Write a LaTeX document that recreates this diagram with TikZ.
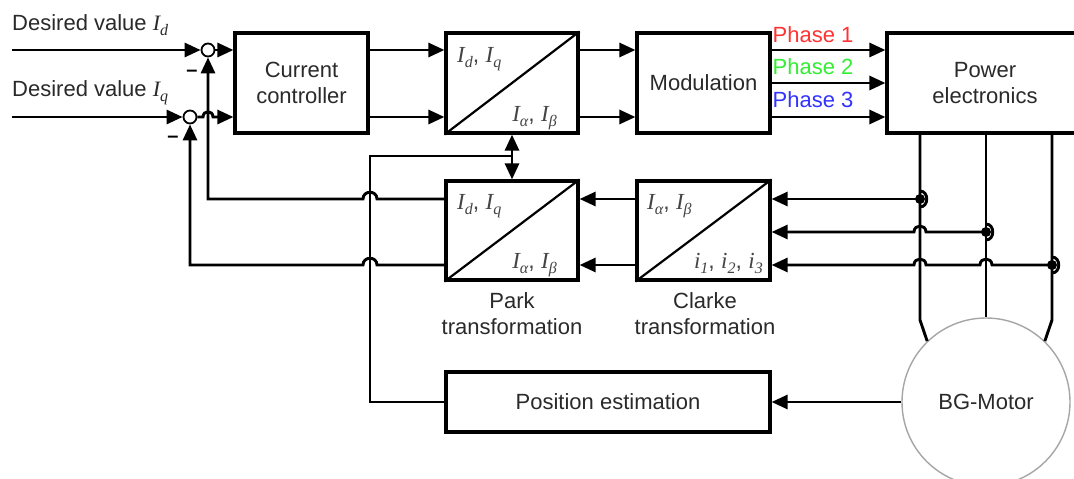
\documentclass[tikz,border=0pt]{standalone}
\usepackage{fontspec}
\setmainfont{Liberation Sans}
\newfontfamily\serfam{Liberation Serif}
\usetikzlibrary{arrows.meta}
\definecolor{txt}{HTML}{2A2A2A}
\definecolor{mtxt}{HTML}{444444}
\definecolor{ph1}{HTML}{FF3333}
\definecolor{ph2}{HTML}{33EE33}
\definecolor{ph3}{HTML}{3333FF}
\newcommand\vv[2]{{\serfam\itshape #1\raisebox{-0.25em}{\fontsize{16}{16}\selectfont #2}}}
\begin{document}
\begin{tikzpicture}[x=1pt,y=-1pt,
  box/.style={draw, line width=3.2pt, inner sep=0pt, align=center,
    font=\fontsize{22}{26}\selectfont, text=txt},
  lbl/.style={font=\fontsize{22}{26}\selectfont, text=txt, align=center, inner sep=0pt},
  mlbl/.style={font=\fontsize{23}{26}\selectfont, text=mtxt, inner sep=0pt},
  conn/.style={line width=2.9pt},
  arr/.style={conn, -{Triangle[length=16pt,width=14pt]}},
  arrtwo/.style={conn, {Triangle[length=16pt,width=14pt]}-{Triangle[length=16pt,width=14pt]}},
  sumnode/.style={circle, draw, line width=1.8pt, minimum size=13pt, inner sep=0pt, fill=white},
  tapdot/.style={circle, fill=black, minimum size=10pt, inner sep=0pt},
  diag/.style={line width=2.2pt}]
\useasboundingbox (0,0) rectangle (1074,479);
\fill[white] (0,0) rectangle (1074,479);

% row coordinates
\coordinate (r50) at (0,50);
\coordinate (r83) at (0,83);
\coordinate (r117) at (0,117);
\coordinate (x1) at (920,0);
\coordinate (x2) at (986,0);
\coordinate (x3) at (1052,0);

% blocks
\node[box, minimum width=133pt, minimum height=100pt] (cc) at (301.5,83) {Current\\controller};
\node[box, minimum width=132pt, minimum height=100pt] (tu) at (512,83) {};
\node[box, minimum width=133pt, minimum height=100pt] (mod) at (703.5,83) {Modulation};
\node[box, minimum width=196pt, minimum height=100pt] (pe) at (985,83) {Power\\electronics};
\node[box, minimum width=132pt, minimum height=99pt] (park) at (512,230.5) {};
\node[box, minimum width=133pt, minimum height=99pt] (clarke) at (703.5,230.5) {};
\node[box, minimum width=324pt, minimum height=60pt] (pos) at (608,402) {Position estimation};
\node[circle, draw=black!35, line width=1.4pt, minimum size=168pt, inner sep=0pt,
      font=\fontsize{22}{26}\selectfont, text=txt] (m) at (986,402) {BG-Motor};

% diagonals
\draw[diag] (tu.south west) -- (tu.north east);
\draw[diag] (park.south west) -- (park.north east);
\draw[diag] (clarke.south west) -- (clarke.north east);

% block labels
\node[mlbl, anchor=base west] (tul1) at (457,62) {\vv{I}{d}, \vv{I}{q}};
\node[mlbl, anchor=base east] (tul2) at (557,121) {\vv{I}{α}, \vv{I}{β}};
\node[mlbl, anchor=base west] (pal1) at (457,209) {\vv{I}{d}, \vv{I}{q}};
\node[mlbl, anchor=base east] (pal2) at (557,268) {\vv{I}{α}, \vv{I}{β}};
\node[mlbl, anchor=base west] (cll1) at (647,209) {\vv{I}{α}, \vv{I}{β}};
\node[mlbl, anchor=base east] (cll2) at (763,268) {\vv{i}{1}, \vv{i}{2}, \vv{i}{3}};

\node[lbl] (parkcap) at (512,314) {Park\\transformation};
\node[lbl] (clarkecap) at (705,314) {Clarke\\transformation};

% inputs
\node[lbl, anchor=base west] (ldd) at (12,30) {Desired value \vv{I}{d}};
\node[lbl, anchor=base west] (ldq) at (12,96) {Desired value \vv{I}{q}};
\coordinate (ind) at (12,50);
\coordinate (inq) at (12,117);
\node[sumnode] (s1) at (208,50) {};
\node[sumnode] (s2) at (190,117) {};
\node[font=\fontsize{20}{20}\selectfont\bfseries, inner sep=0pt] (mn1) at (192,73) {–};
\node[font=\fontsize{20}{20}\selectfont\bfseries, inner sep=0pt] (mn2) at (173,139) {–};

\draw[arr] (ind) -- (s1);
\draw[arr] (inq) -- (s2);
\draw[arr] (s1) -- (cc.west |- s1);
\draw[arr] (s2) -- (203,117) .. controls (203,110) and (213,110) .. (213,117) -- (cc.west |- s2);

% controller -> transform -> modulation
\draw[arr] (cc.east |- r50) -- (tu.west |- r50);
\draw[arr] (cc.east |- r117) -- (tu.west |- r117);
\draw[arr] (tu.east |- r50) -- (mod.west |- r50);
\draw[arr] (tu.east |- r117) -- (mod.west |- r117);

% phases
\draw[arr] (mod.east |- r50) -- (pe.west |- r50);
\draw[arr] (mod.east |- r83) -- (pe.west |- r83);
\draw[arr] (mod.east |- r117) -- (pe.west |- r117);
\node[lbl, text=ph1] (p1) at (813,35) {Phase 1};
\node[lbl, text=ph2] (p2) at (813,67) {Phase 2};
\node[lbl, text=ph3] (p3) at (813,100) {Phase 3};

% power lines to motor
\draw[conn] (pe.south -| x1) -- (920,320) -- (m.134);
\draw[conn] (pe.south -| x2) -- (m.north);
\draw[conn] (pe.south -| x3) -- (1052,320) -- (m.46);

% taps
\node[tapdot] (t1) at (920,199) {};
\node[tapdot] (t2) at (986,232) {};
\node[tapdot] (t3) at (1052,265) {};
\draw[conn] (920,191) .. controls (929,191) and (929,207) .. (920,207);
\draw[conn] (986,224) .. controls (995,224) and (995,240) .. (986,240);
\draw[conn] (1052,257) .. controls (1061,257) and (1061,273) .. (1052,273);

\draw[arr] (t1.center) -- (clarke.east |- t1);
\draw[arr] (t2.center) -- (926,232) .. controls (926,224) and (914,224) .. (914,232) -- (clarke.east |- t2);
\draw[arr] (t3.center) -- (992,265) .. controls (992,257) and (980,257) .. (980,265)
  -- (926,265) .. controls (926,257) and (914,257) .. (914,265) -- (clarke.east |- t3);

% Clarke -> Park
\draw[arr] (clarke.west |- t1) -- (park.east |- t1);
\draw[arr] (clarke.west |- t3) -- (park.east |- t3);

% Park feedback
\coordinate (f1) at (208,199);
\coordinate (f2) at (190,265);
\draw[arr] (park.west |- t1) -- (377,199) .. controls (377,190) and (363,190) .. (363,199) -- (f1) -- (s1.south);
\draw[arr] (park.west |- t3) -- (377,265) .. controls (377,256) and (363,256) .. (363,265) -- (f2) -- (s2.south);

% position estimation
\draw[arrtwo] (tu.south) -- (park.north);
\coordinate (j1) at (370,156);
\coordinate (j2) at (512,156);
\draw[conn] (pos.west) -| (j1) -- (j2);
\draw[arr] (m.west) -- (pos.east |- m.west);
\end{tikzpicture}
\end{document}
